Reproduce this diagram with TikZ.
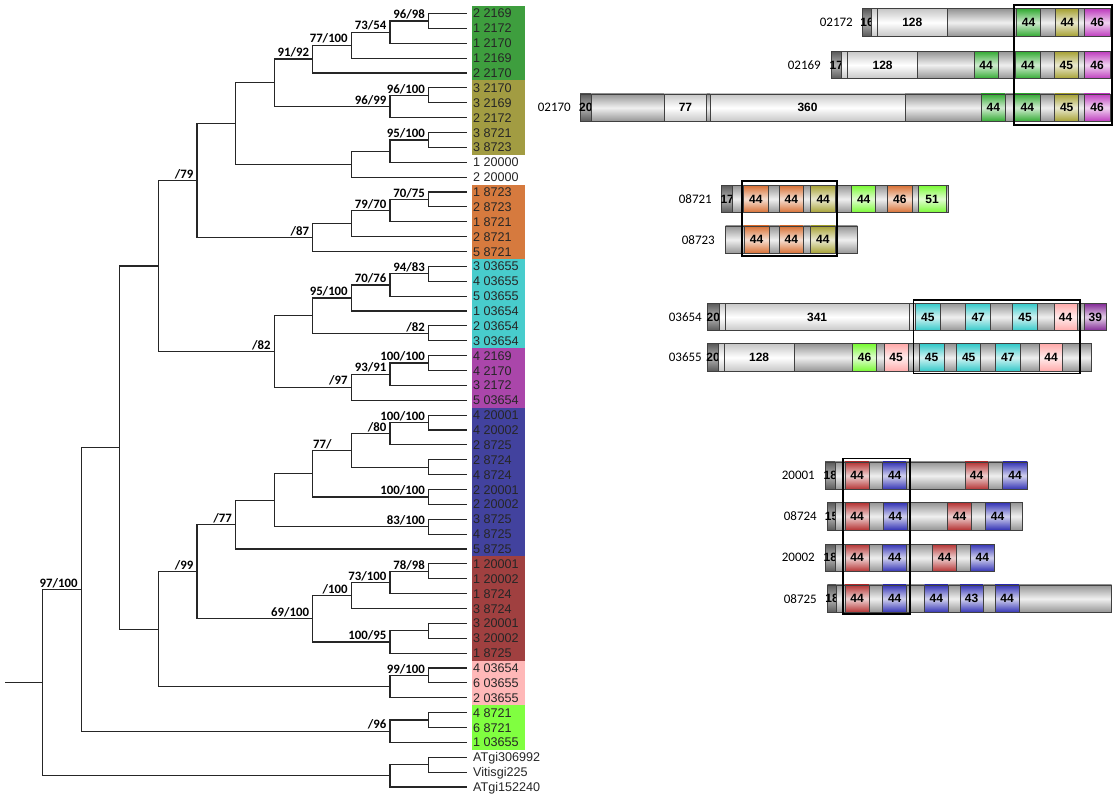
\documentclass[tikz,border=0pt]{standalone}
\usepackage{fontspec}
\setmainfont{Liberation Sans}
\newfontfamily\calib{Carlito}
\newcount\sn
\definecolor{cG}{RGB}{62,158,62}
\definecolor{cO}{RGB}{162,156,66}
\definecolor{cR}{RGB}{214,122,62}
\definecolor{cC}{RGB}{72,204,204}
\definecolor{cM}{RGB}{170,70,170}
\definecolor{cB}{RGB}{66,66,158}
\definecolor{cD}{RGB}{160,64,64}
\definecolor{cP}{RGB}{255,184,184}
\definecolor{cL}{RGB}{128,255,64}
\definecolor{dG}{RGB}{50,170,50}
\definecolor{dO}{RGB}{165,160,50}
\definecolor{dM}{RGB}{190,60,190}
\definecolor{dOr}{RGB}{215,110,50}
\definecolor{dL}{RGB}{120,250,50}
\definecolor{dC}{RGB}{50,200,200}
\definecolor{dP}{RGB}{255,170,170}
\definecolor{dPu}{RGB}{130,40,150}
\definecolor{dRd}{RGB}{180,50,50}
\definecolor{dBl}{RGB}{50,50,180}
\newcommand\ty[1]{13.5+14.875*(#1)}
\newcommand\tx[1]{4+38.6*(#1)}
\newcommand\inode[5]{\coordinate (#1) at ({\tx{#2}},{\ty{#3}});
  \draw[branch] (#1) |- (#4); \draw[branch] (#1) |- (#5);}
\newcommand\blab[2]{\node[bs] (b-#1) at ([shift={(-3,-1)}]#1) {#2};}
\newcommand\blabx[3]{\node[bs] (b-#1) at ([shift={(-3-#3,-1)}]#1) {#2};}
\newcommand\seg[4]{\node[segbox,#3,minimum width={#2-#1}] (s\the\sn) at ({(#1+#2)/2},\rowy) {\makebox[0pt]{#4}};\global\advance\sn by 1\relax}
\begin{document}
\begin{tikzpicture}[x=1pt,y=-1pt,
  branch/.style={draw=black!85, line width=1.15pt},
  leaf/.style={anchor=base west, inner sep=0pt, font=\fontsize{12.6}{12}\selectfont, text=black!85},
  bs/.style={anchor=south east, inner sep=0.5pt, font=\calib\bfseries\fontsize{12.8}{12}\selectfont},
  pname/.style={anchor=east, inner sep=0pt, font=\calib\fontsize{13}{13}\selectfont},
  segbox/.style={draw=black!75, line width=0.7pt, inner sep=0pt, minimum height=27.5pt, font=\fontsize{12}{12}\selectfont\bfseries},
  dk/.style={top color=black!65, bottom color=black!65, middle color=black!30},
  lt/.style={top color=black!22, bottom color=black!22, middle color=white},
  gy/.style={top color=black!42, bottom color=black!42, middle color=black!6},
  col/.style={top color=#1, bottom color=#1, middle color=#1!22!white},
  frame/.style={draw=black, line width=1.6pt}]
\fill[white] (0,0) rectangle (1118,800);
\useasboundingbox (0,0) rectangle (1118,800);
% colour bands
\fill[cG] (472,{\ty{0}-7.44}) rectangle (525,{\ty{4}+7.44});
\fill[cO] (472,{\ty{5}-7.44}) rectangle (525,{\ty{9}+7.44});
\fill[cR] (472,{\ty{12}-7.44}) rectangle (525,{\ty{16}+7.44});
\fill[cC] (472,{\ty{17}-7.44}) rectangle (525,{\ty{22}+7.44});
\fill[cM] (472,{\ty{23}-7.44}) rectangle (525,{\ty{26}+7.44});
\fill[cB] (472,{\ty{27}-7.44}) rectangle (525,{\ty{36}+7.44});
\fill[cD] (472,{\ty{37}-7.44}) rectangle (525,{\ty{43}+7.44});
\fill[cP] (472,{\ty{44}-7.44}) rectangle (525,{\ty{46}+7.44});
\fill[cL] (472,{\ty{47}-7.44}) rectangle (525,{\ty{49}+7.44});
% leaves
\foreach \n [count=\i from 0] in {2 2169,1 2172,1 2170,1 2169,2 2170,3 2170,3 2169,2 2172,3 8721,3 8723,1 20000,2 20000,1 8723,2 8723,1 8721,2 8721,5 8721,3 03655,4 03655,5 03655,1 03654,2 03654,3 03654,4 2169,4 2170,3 2172,5 03654,4 20001,4 20002,2 8725,2 8724,4 8724,2 20001,2 20002,3 8725,4 8725,5 8725,1 20001,1 20002,1 8724,3 8724,3 20001,3 20002,1 8725,4 03654,6 03655,2 03655,4 8721,6 8721,1 03655,ATgi306992,Vitisgi225,ATgi152240}{
  \coordinate (l\i) at (467,{\ty{\i}});
  \node[leaf] (t\i) at (473,{\ty{\i}+4.5}) {\n};
}
% tree
\inode{g1}{11}{0.5}{l0}{l1} \blab{g1}{96/98}
\inode{g2}{10}{1.25}{g1}{l2} \blab{g2}{73/54}
\inode{g3}{9}{2.125}{g2}{l3} \blab{g3}{77/100}
\inode{g4}{8}{3.0625}{g3}{l4} \blab{g4}{91/92}
\inode{o1}{11}{5.5}{l5}{l6} \blab{o1}{96/100}
\inode{o2}{10}{6.25}{o1}{l7} \blab{o2}{96/99}
\inode{go}{7}{4.65625}{g4}{o2}
\inode{w1}{11}{8.5}{l8}{l9} \blab{w1}{95/100}
\inode{w2}{10}{9.25}{w1}{l10}
\inode{w3}{9}{10.125}{w2}{l11}
\inode{A}{6}{7.390625}{go}{w3}
\inode{r1}{11}{12.5}{l12}{l13} \blab{r1}{70/75}
\inode{r2}{10}{13.25}{r1}{l14} \blab{r2}{79/70}
\inode{r3}{9}{14.125}{r2}{l15}
\inode{r4}{8}{15.0625}{r3}{l16} \blab{r4}{/87}
\inode{B}{5}{11.2265625}{A}{r4} \blab{B}{/79}
\inode{c1}{11}{17.5}{l17}{l18} \blab{c1}{94/83}
\inode{c2}{10}{18.25}{c1}{l19} \blab{c2}{70/76}
\inode{c3}{9}{19.125}{c2}{l20} \blab{c3}{95/100}
\inode{c4}{11}{21.5}{l21}{l22} \blab{c4}{/82}
\inode{c5}{8}{20.3125}{c3}{c4}
\inode{m1}{11}{23.5}{l23}{l24} \blab{m1}{100/100}
\inode{m2}{10}{24.25}{m1}{l25} \blab{m2}{93/91}
\inode{m3}{9}{25.125}{m2}{l26} \blab{m3}{/97}
\inode{cm}{7}{22.71875}{c5}{m3} \blab{cm}{/82}
\inode{C}{4}{16.97265625}{B}{cm}
\inode{b1}{11}{27.5}{l27}{l28} \blab{b1}{100/100}
\inode{b2}{10}{28.25}{b1}{l29} \blab{b2}{/80}
\inode{b3}{11}{30.5}{l30}{l31}
\inode{b4}{9}{29.375}{b2}{b3} \blabx{b4}{77/}{16}
\inode{b5}{11}{32.5}{l32}{l33} \blab{b5}{100/100}
\inode{b6}{8}{30.9375}{b4}{b5}
\inode{b7}{11}{34.5}{l34}{l35} \blab{b7}{83/100}
\inode{b8}{7}{32.71875}{b6}{b7}
\inode{b9}{6}{34.359375}{b8}{l36} \blab{b9}{/77}
\inode{d1}{11}{37.5}{l37}{l38} \blab{d1}{78/98}
\inode{d2}{10}{38.25}{d1}{l39} \blab{d2}{73/100}
\inode{d3}{9}{39.125}{d2}{l40} \blab{d3}{/100}
\inode{d4}{11}{41.5}{l41}{l42}
\inode{d5}{10}{42.25}{d4}{l43} \blab{d5}{100/95}
\inode{d6}{8}{40.6875}{d3}{d5} \blab{d6}{69/100}
\inode{n10}{5}{37.5234375}{b9}{d6} \blab{n10}{/99}
\inode{p1}{11}{44.5}{l44}{l45} \blab{p1}{99/100}
\inode{p2}{10}{45.25}{p1}{l46}
\inode{n11}{4}{41.38671875}{n10}{p2}
\inode{n12}{3}{29.1796875}{C}{n11}
\inode{e1}{11}{47.5}{l47}{l48}
\inode{e2}{10}{48.25}{e1}{l49} \blab{e2}{/96}
\inode{n13}{2}{38.71484375}{n12}{e2} \blab{n13}{97/100}
\inode{q1}{11}{50.5}{l50}{l51}
\inode{q2}{10}{51.25}{q1}{l52}
\inode{root}{1}{44.982421875}{n13}{q2}
\coordinate (stem) at (5,{\ty{44.982421875}});
\draw[branch] (stem) -- (root);
% ---------- domain bars ----------
% 02172
\def\rowy{22.5}
\node[pname] (p02172) at (853,\rowy) {02172};
\seg{862.4}{871.7}{dk}{16}
\seg{871.7}{877.3}{lt}{}
\seg{877.3}{947.2}{lt}{128}
\seg{947.2}{1016.5}{gy}{}
\seg{1016.5}{1040.7}{col=dG}{44}
\seg{1040.7}{1055.6}{gy}{}
\seg{1055.6}{1078.8}{col=dO}{44}
\seg{1078.8}{1084.7}{gy}{}
\seg{1084.7}{1110}{col=dM}{46}
% 02169
\def\rowy{65}
\node[pname] (p02169) at (821,\rowy) {02169};
\seg{831.2}{841.6}{dk}{17}
\seg{841.6}{847.5}{lt}{}
\seg{847.5}{917.8}{lt}{128}
\seg{917.8}{974.2}{gy}{}
\seg{974.2}{998.1}{col=dG}{44}
\seg{998.1}{1015.8}{gy}{}
\seg{1015.8}{1040}{col=dG}{44}
\seg{1040}{1054.6}{gy}{}
\seg{1054.6}{1078.1}{col=dO}{45}
\seg{1078.1}{1084}{gy}{}
\seg{1084}{1110}{col=dM}{46}
% 02170
\def\rowy{107.7}
\node[pname] (p02170) at (571,\rowy) {02170};
\seg{580.2}{591.3}{dk}{20}
\seg{591.3}{664.3}{gy}{}
\seg{664.3}{706.6}{lt}{77}
\seg{706.6}{710}{gy}{}
\seg{710}{905}{lt}{360}
\seg{905}{981.2}{gy}{}
\seg{981.2}{1005.4}{col=dG}{44}
\seg{1005.4}{1014.8}{gy}{}
\seg{1014.8}{1040}{col=dG}{44}
\seg{1040}{1054.6}{gy}{}
\seg{1054.6}{1078.8}{col=dO}{45}
\seg{1078.8}{1084}{gy}{}
\seg{1084}{1110}{col=dM}{46}
% 08721
\def\rowy{199}
\node[pname] (p08721) at (712,\rowy) {08721};
\seg{721.7}{732.7}{dk}{17}
\seg{732.7}{743.3}{gy}{}
\seg{743.3}{768.3}{col=dOr}{44}
\seg{768.3}{779.3}{gy}{}
\seg{779.3}{803.3}{col=dOr}{44}
\seg{803.3}{810.7}{gy}{}
\seg{810.7}{835.7}{col=dO}{44}
\seg{835.7}{851.7}{gy}{}
\seg{851.7}{875.7}{col=dL}{44}
\seg{875.7}{887.3}{gy}{}
\seg{887.3}{912.3}{col=dOr}{46}
\seg{912.3}{918.3}{gy}{}
\seg{918.3}{946}{col=dL}{51}
\seg{946}{948.3}{gy}{}
% 08723
\def\rowy{239.7}
\node[pname] (p08723) at (715,\rowy) {08723};
\seg{725.7}{744}{gy}{}
\seg{744}{769}{col=dOr}{44}
\seg{769}{779.3}{gy}{}
\seg{779.3}{803.3}{col=dOr}{44}
\seg{803.3}{810.7}{gy}{}
\seg{810.7}{835}{col=dO}{44}
\seg{835}{857.3}{gy}{}
% 03654
\def\rowy{317}
\node[pname] (p03654) at (702,\rowy) {03654};
\seg{707.7}{719}{dk}{20}
\seg{719}{725}{lt}{}
\seg{725}{909.3}{lt}{341}
\seg{909.3}{915}{lt}{}
\seg{915}{940.7}{col=dC}{45}
\seg{940.7}{965.7}{gy}{}
\seg{965.7}{990.7}{col=dC}{47}
\seg{990.7}{1012.7}{gy}{}
\seg{1012.7}{1037.3}{col=dC}{45}
\seg{1037.3}{1054}{gy}{}
\seg{1054}{1077.3}{col=dP}{44}
\seg{1077.3}{1084}{gy}{}
\seg{1084}{1106.7}{col=dPu}{39}
% 03655
\def\rowy{357.5}
\node[pname] (p03655) at (702,\rowy) {03655};
\seg{707.7}{718.3}{dk}{20}
\seg{718.3}{724.3}{lt}{}
\seg{724.3}{794}{lt}{128}
\seg{794}{852.3}{gy}{}
\seg{852.3}{876.7}{col=dL}{46}
\seg{876.7}{884}{gy}{}
\seg{884}{908.3}{col=dP}{45}
\seg{908.3}{919}{gy}{}
\seg{919}{944}{col=dC}{45}
\seg{944}{956.7}{gy}{}
\seg{956.7}{980.7}{col=dC}{45}
\seg{980.7}{995}{gy}{}
\seg{995}{1020.7}{col=dC}{47}
\seg{1020.7}{1039.3}{gy}{}
\seg{1039.3}{1062.7}{col=dP}{44}
\seg{1062.7}{1091.7}{gy}{}
% 20001
\def\rowy{475.7}
\node[pname] (p20001) at (815,\rowy) {20001};
\seg{825}{835.7}{dk}{18}
\seg{835.7}{845}{gy}{}
\seg{845}{869}{col=dRd}{44}
\seg{869}{882.7}{gy}{}
\seg{882.7}{906.7}{col=dBl}{44}
\seg{906.7}{965}{gy}{}
\seg{965}{988.3}{col=dRd}{44}
\seg{988.3}{1002.7}{gy}{}
\seg{1002.7}{1027.3}{col=dBl}{44}
% 08724
\def\rowy{516.3}
\node[pname] (p08724) at (817,\rowy) {08724};
\seg{827.3}{835.7}{dk}{15}
\seg{835.7}{845}{gy}{}
\seg{845}{869}{col=dRd}{44}
\seg{869}{883.3}{gy}{}
\seg{883.3}{907.3}{col=dBl}{44}
\seg{907.3}{947.3}{gy}{}
\seg{947.3}{971.7}{col=dRd}{44}
\seg{971.7}{985}{gy}{}
\seg{985}{1010}{col=dBl}{44}
\seg{1010}{1022.3}{gy}{}
% 20002
\def\rowy{557.8}
\node[pname] (p20002) at (815,\rowy) {20002};
\seg{825}{835.7}{dk}{18}
\seg{835.7}{845}{gy}{}
\seg{845}{869}{col=dRd}{44}
\seg{869}{882.7}{gy}{}
\seg{882.7}{906.7}{col=dBl}{44}
\seg{906.7}{932.3}{gy}{}
\seg{932.3}{956.7}{col=dRd}{44}
\seg{956.7}{970.7}{gy}{}
\seg{970.7}{994}{col=dBl}{44}
% 08725
\def\rowy{598.7}
\node[pname] (p08725) at (817,\rowy) {08725};
\seg{827.3}{836.7}{dk}{18}
\seg{836.7}{845}{gy}{}
\seg{845}{869}{col=dRd}{44}
\seg{869}{882.7}{gy}{}
\seg{882.7}{906.7}{col=dBl}{44}
\seg{906.7}{924.3}{gy}{}
\seg{924.3}{948.3}{col=dBl}{44}
\seg{948.3}{960}{gy}{}
\seg{960}{983.3}{col=dBl}{43}
\seg{983.3}{995}{gy}{}
\seg{995}{1019}{col=dBl}{44}
\seg{1019}{1111.7}{gy}{}
% frames
\draw[frame] (1014,5) rectangle (1112,125);
\draw[frame] (741.7,180.7) rectangle (836.7,255.7);
\draw[frame] (913.3,300) rectangle (1080,373.3);
\draw[frame] (842.7,458.3) rectangle (910,614);
\end{tikzpicture}
\end{document}
